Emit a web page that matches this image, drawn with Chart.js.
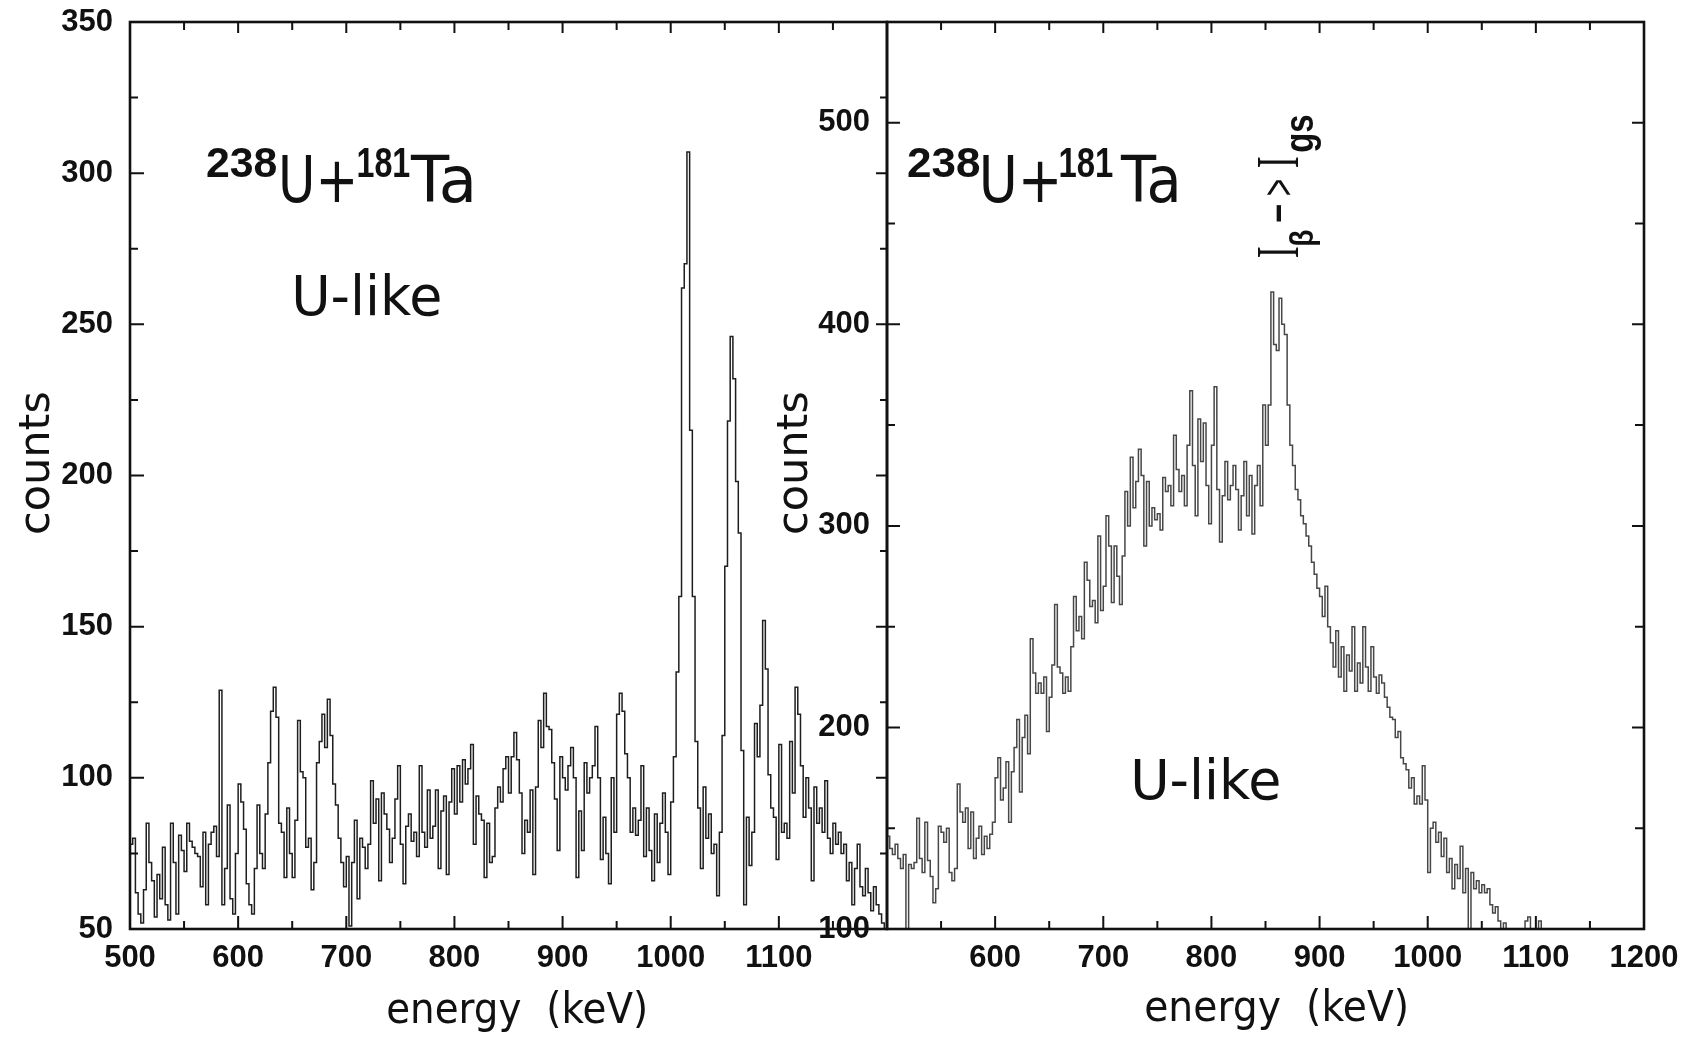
<!DOCTYPE html>
<html>
<head>
<meta charset="utf-8">
<title>238U+181Ta gamma spectra</title>
<script src="https://cdn.jsdelivr.net/npm/chart.js@4.4.1/dist/chart.umd.min.js"></script>
<style>
  html, body { margin: 0; background: #fff; }
  #wrap { position: relative; width: 1690px; height: 1038px; }
  #wrap canvas { position: absolute; left: 0; top: 0; }
</style>
</head>
<body>
<div id="wrap">
  <canvas id="leftChart" width="1690" height="1038"></canvas>
  <canvas id="rightChart" width="1690" height="1038"></canvas>
</div>
<script>
// histogram binning (keV)
const binStart = 500;
const binWidth = 2.5;

// left panel: counts per 2.5 keV bin, 500 - 1200 keV
const leftCounts = [
  78, 80, 62, 55, 52, 63, 85, 72, 66, 54, 68, 60, 77, 58, 53, 85, 72, 55, 81, 76,
  69, 85, 79, 77, 75, 74, 64, 82, 58, 78, 82, 84, 74, 129, 58, 70, 91, 60, 55, 75,
  98, 92, 83, 65, 58, 55, 70, 91, 75, 70, 88, 105, 122, 130, 120, 85, 82, 67, 90, 75,
  67, 86, 119, 102, 100, 77, 80, 63, 72, 105, 112, 121, 110, 126, 114, 98, 91, 80, 72, 64,
  74, 51, 72, 86, 60, 80, 77, 70, 78, 99, 85, 93, 66, 95, 88, 83, 72, 80, 93, 104,
  78, 65, 84, 88, 79, 82, 74, 104, 82, 77, 96, 80, 84, 96, 70, 89, 94, 68, 92, 103,
  88, 104, 92, 106, 98, 103, 111, 78, 94, 88, 86, 67, 85, 72, 74, 90, 97, 92, 103, 107,
  95, 107, 115, 106, 95, 75, 86, 82, 96, 68, 97, 119, 110, 128, 117, 116, 105, 93, 76, 107,
  100, 96, 104, 110, 100, 67, 89, 76, 105, 95, 100, 104, 117, 100, 73, 87, 75, 65, 100, 82,
  121, 128, 122, 108, 100, 82, 90, 81, 86, 104, 74, 90, 76, 66, 88, 72, 85, 95, 82, 68,
  92, 107, 135, 160, 262, 270, 307, 215, 160, 112, 90, 70, 97, 80, 88, 75, 78, 61, 82, 114,
  170, 218, 246, 232, 198, 181, 109, 58, 87, 71, 82, 118, 107, 124, 152, 136, 101, 90, 87, 73,
  111, 82, 85, 80, 112, 95, 130, 121, 104, 87, 100, 90, 66, 97, 85, 90, 82, 99, 80, 75,
  85, 78, 82, 75, 78, 66, 72, 58, 70, 78, 64, 61, 70, 62, 56, 64, 58, 55, 52, 50
];

// right panel: counts per 2.5 keV bin, 500 - 1200 keV
const rightCounts = [
  146, 140, 137, 142, 135, 130, 137, 96, 132, 130, 133, 155, 135, 128, 153, 134, 126, 113, 120, 151,
  148, 143, 150, 128, 124, 130, 172, 158, 153, 160, 140, 158, 135, 145, 151, 137, 146, 140, 147, 153,
  175, 185, 164, 170, 183, 153, 178, 190, 204, 168, 195, 206, 187, 244, 227, 217, 222, 217, 225, 198,
  215, 231, 261, 230, 227, 217, 225, 218, 240, 265, 248, 255, 244, 282, 273, 260, 263, 252, 295, 258,
  270, 305, 290, 262, 290, 275, 261, 285, 317, 300, 334, 309, 322, 338, 325, 290, 322, 300, 309, 303,
  306, 298, 324, 317, 320, 310, 345, 328, 317, 325, 310, 340, 367, 330, 305, 353, 332, 351, 320, 301,
  340, 369, 318, 292, 315, 332, 313, 320, 330, 318, 298, 315, 332, 305, 325, 296, 320, 330, 310, 360,
  340, 360, 416, 390, 387, 413, 400, 395, 360, 340, 330, 318, 313, 305, 301, 295, 290, 282, 276, 269,
  265, 255, 270, 250, 242, 230, 248, 225, 240, 218, 236, 228, 250, 218, 232, 222, 250, 230, 218, 240,
  225, 217, 226, 222, 215, 210, 205, 204, 195, 198, 185, 182, 179, 170, 175, 162, 166, 162, 181, 164,
  128, 150, 153, 143, 148, 136, 145, 128, 135, 120, 132, 125, 141, 118, 130, 98, 128, 120, 124, 118,
  122, 118, 120, 112, 108, 111, 104, 99, 103, 96, 94, 92, 96, 90, 94, 97, 104, 106, 92, 95,
  98, 104, 95, 92, 90, 93, 88, 91, 87, 90, 86, 88, 85, 87, 84, 86, 83, 85, 82, 84,
  82, 80, 83, 79, 81, 78, 80, 77, 79, 76, 78, 75, 77, 74, 76, 73, 75, 72, 74, 71
];

// labelled ticks
const leftEnergyLabels = [500, 600, 700, 800, 900, 1000, 1100];
const rightEnergyLabels = [600, 700, 800, 900, 1000, 1100, 1200];
const leftCountLabels = [50, 100, 150, 200, 250, 300, 350];
const rightCountLabels = [100, 200, 300, 400, 500];

// all tick marks (inward)
const energyTickMarks = [500, 550, 600, 650, 700, 750, 800, 850, 900, 950, 1000, 1050, 1100, 1150, 1200];
const leftCountTickMarks = [50, 75, 100, 125, 150, 175, 200, 225, 250, 275, 300, 325, 350];
const rightCountTickMarks = [100, 150, 200, 250, 300, 350, 400, 450, 500, 550];

Chart.defaults.font.family = '"Liberation Sans", Arial, sans-serif';

const SUP = 'bold 42px "Liberation Sans"';
const BIG = '64px "DejaVu Sans"';
const LIKE = '56px "DejaVu Sans"';
const TITLE = '42px "DejaVu Sans"';
const SUB = 'bold 34px "Liberation Sans"';

function histogram(counts) {
  const pts = counts.map((c, i) => ({ x: binStart + i * binWidth, y: c }));
  pts.push({ x: binStart + counts.length * binWidth, y: counts[counts.length - 1] });
  return pts;
}

// draw text so that its ink box starts at x and spans width w
function fitText(ctx, text, font, x, baseline, w) {
  ctx.font = font;
  ctx.textAlign = 'left';
  ctx.textBaseline = 'alphabetic';
  const m = ctx.measureText(text);
  const ink = m.actualBoundingBoxLeft + m.actualBoundingBoxRight;
  const sx = w / ink;
  ctx.save();
  ctx.translate(x, baseline);
  ctx.scale(sx, 1);
  ctx.fillText(text, m.actualBoundingBoxLeft, 0);
  ctx.restore();
}

// fixed axis boxes, no extra label padding around the plot
function fixBox(size, isX) {
  return s => {
    if (isX) s.height = size; else s.width = size;
    s.paddingTop = 0;
    s.paddingBottom = 0;
    s.paddingLeft = 0;
    s.paddingRight = 0;
  };
}

function panelDecor(spec) {
  return {
    id: 'decor_' + spec.name,
    afterDraw(chart) {
      const { ctx, chartArea: a, scales: { x, y } } = chart;
      ctx.save();
      ctx.strokeStyle = '#111';
      ctx.lineWidth = 2.6;
      ctx.strokeRect(a.left, a.top, a.right - a.left, a.bottom - a.top);

      ctx.lineWidth = 2;
      ctx.beginPath();
      for (const v of energyTickMarks) {
        const px = x.getPixelForValue(v);
        const major = v % 100 === 0;
        ctx.moveTo(px, a.bottom);
        ctx.lineTo(px, a.bottom - (major ? 13 : 8));
        ctx.moveTo(px, a.top);
        ctx.lineTo(px, a.top + (major ? 11 : 8));
      }
      for (const v of spec.countMarks) {
        const py = y.getPixelForValue(v);
        const major = v % spec.countMajor === 0;
        ctx.moveTo(a.left, py);
        ctx.lineTo(a.left + (major ? spec.leftTick[0] : spec.leftTick[1]), py);
        ctx.moveTo(a.right, py);
        ctx.lineTo(a.right - (major ? spec.rightTick[0] : spec.rightTick[1]), py);
      }
      ctx.stroke();

      ctx.fillStyle = '#111';
      for (const item of spec.texts) {
        ctx.save();
        ctx.translate(item.x0 || 0, item.y0 || 0);
        if (item.rot) ctx.rotate(item.rot);
        for (const p of item.parts) fitText(ctx, p[0], p[1], p[2], p[3], p[4]);
        ctx.restore();
      }
      ctx.restore();
    }
  };
}

function makePanel(canvasId, spec) {
  const tickFont = { family: 'Liberation Sans', weight: 'bold', size: 31, lineHeight: 1.2 };
  return new Chart(document.getElementById(canvasId), {
    type: 'line',
    data: {
      datasets: [{
        data: histogram(spec.counts),
        borderColor: spec.color,
        borderWidth: 1.5,
        stepped: true,
        pointRadius: 0,
        fill: false
      }]
    },
    options: {
      responsive: false,
      animation: false,
      events: [],
      parsing: false,
      layout: { padding: spec.padding },
      plugins: { legend: { display: false }, tooltip: { enabled: false } },
      scales: {
        x: {
          type: 'linear', min: 500, max: 1200,
          grid: { display: false, drawTicks: false },
          border: { display: false },
          afterBuildTicks: s => { s.ticks = spec.energyLabels.map(v => ({ value: v })); },
          afterFit: fixBox(70, true),
          ticks: { font: tickFont, color: '#111', padding: 11, autoSkip: false, maxRotation: 0,
                   callback: v => String(v) }
        },
        y: {
          type: 'linear', min: spec.yMin, max: spec.yMax,
          grid: { display: false, drawTicks: false },
          border: { display: false },
          afterBuildTicks: s => { s.ticks = spec.countLabels.map(v => ({ value: v })); },
          afterFit: fixBox(100, false),
          ticks: { font: tickFont, color: '#111', padding: 17, autoSkip: false,
                   callback: v => String(v) }
        }
      }
    },
    plugins: [panelDecor(spec)]
  });
}

makePanel('leftChart', {
  name: 'left',
  counts: leftCounts,
  color: '#1e1e1e',
  yMin: 50, yMax: 350,
  energyLabels: leftEnergyLabels,
  countLabels: leftCountLabels,
  countMarks: leftCountTickMarks,
  countMajor: 50,
  leftTick: [14, 8],
  rightTick: [11, 7],
  padding: { left: 30, right: 803, top: 22, bottom: 39 },
  texts: [
    { parts: [['238', SUP, 207, 177, 70], ['U+', BIG, 282, 202, 71], ['181', SUP, 358, 177, 52], ['Ta', BIG, 410, 202, 62]] },
    { parts: [['U-like', LIKE, 295, 315, 145]] },
    { parts: [['energy  (keV)', TITLE, 388, 1023, 257]] },
    { x0: 49, y0: 533, rot: -Math.PI / 2, parts: [['counts', TITLE, 0, 0, 140]] }
  ]
});

makePanel('rightChart', {
  name: 'right',
  counts: rightCounts,
  color: '#474747',
  yMin: 100, yMax: 550,
  energyLabels: rightEnergyLabels,
  countLabels: rightCountLabels,
  countMarks: rightCountTickMarks,
  countMajor: 100,
  leftTick: [13, 8],
  rightTick: [12, 9],
  padding: { left: 787, right: 46, top: 22, bottom: 39 },
  texts: [
    { parts: [['238', SUP, 908, 177, 72], ['U+', BIG, 983, 202, 74], ['181', SUP, 1060, 177, 53], ['Ta', BIG, 1120, 202, 57]] },
    { x0: 1298, y0: 258, rot: -Math.PI / 2, parts: [
      ['I', '62px "Liberation Serif"', 1, 0, 10],
      ['\u03b2', SUB, 13, 15, 15],
      ['-', '56px "Liberation Sans"', 36, -4, 18],
      ['>', '46px "Liberation Sans"', 63, -4, 15],
      ['I', '62px "Liberation Serif"', 91, 0, 10],
      ['gs', 'bold 41px "Liberation Sans"', 106, 15, 37]
    ] },
    { parts: [['U-like', LIKE, 1134, 799, 145]] },
    { parts: [['energy  (keV)', TITLE, 1146, 1021, 260]] },
    { x0: 807, y0: 533, rot: -Math.PI / 2, parts: [['counts', TITLE, 0, 0, 140]] }
  ]
});
</script>
</body>
</html>
